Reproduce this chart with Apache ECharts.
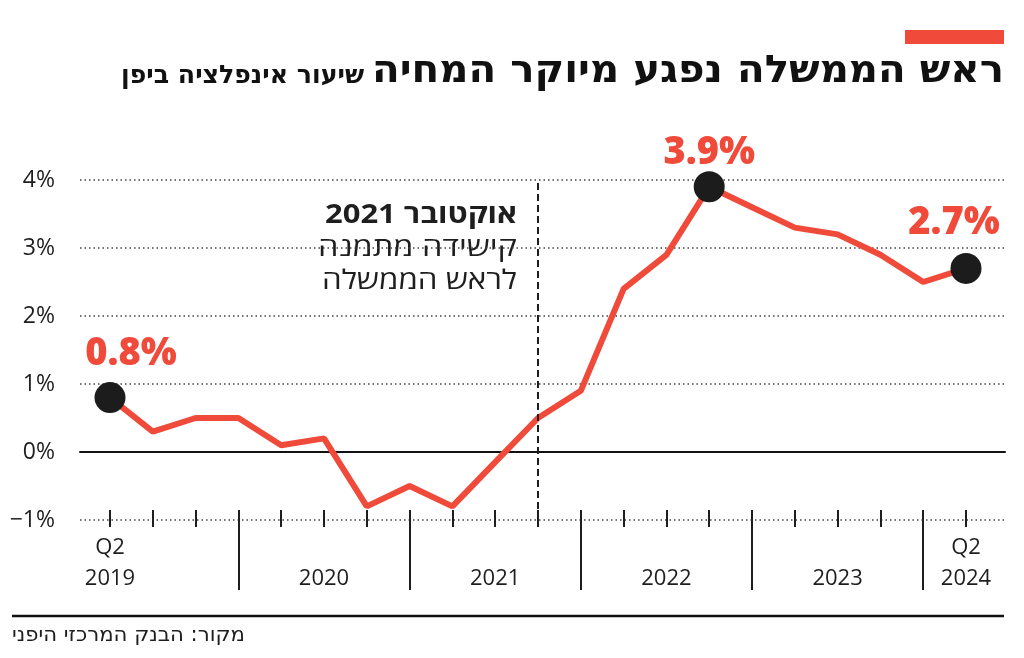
<!DOCTYPE html>
<html>
<head>
<meta charset="utf-8">
<script src="https://cdn.jsdelivr.net/npm/echarts@6/dist/echarts.min.js"></script>
<style>
html,body{margin:0;padding:0;background:#fff;}
#c{width:1024px;height:658px;}
</style>
</head>
<body>
<div id="c"></div>
<script>
// Quarterly inflation rate in Japan, Q2 2019 .. Q2 2024
const quarters = ['Q2 2019','Q3 2019','Q4 2019','Q1 2020','Q2 2020','Q3 2020','Q4 2020','Q1 2021','Q2 2021','Q3 2021','Q4 2021','Q1 2022','Q2 2022','Q3 2022','Q4 2022','Q1 2023','Q2 2023','Q3 2023','Q4 2023','Q1 2024','Q2 2024'];
const inflation = [0.8, 0.3, 0.5, 0.5, 0.1, 0.2, -0.8, -0.5, -0.8, -0.15, 0.5, 0.9, 2.4, 2.9, 3.9, 3.6, 3.3, 3.2, 2.9, 2.5, 2.7];
const highlightIdx = [0, 14, 20];
const yTicks = [-1, 0, 1, 2, 3, 4];
const yearSeparatorIdx = [3, 7, 11, 15, 19];
const axisLabelIdx = [0, 5, 9, 13, 17, 20];
const axisLabelText = ['Q2\n2019', '\n2020', '\n2021', '\n2022', '\n2023', 'Q2\n2024'];
const eventIdx = 10; // October 2021
const titleText = 'ראש הממשלה נפגע מיוקר המחיה';
const subtitleText = 'שיעור אינפלציה ביפן';
const noteLines = ['2021 אוקטובר', 'קישידה מתמנה', 'לראש הממשלה'];
const sourceText = 'מקור: הבנק המרכזי היפני';

const RED = '#ef4a3a';
const INK = '#1e1e1e';
const FONT = '"Open Sans", "DejaVu Sans", sans-serif';
const COND = '"DejaVu Sans Condensed", "DejaVu Sans", sans-serif';

const chart = echarts.init(document.getElementById('c'), null, {renderer: 'canvas'});

const yMin = yTicks[0], yMax = yTicks[yTicks.length - 1];
const lineData = inflation.map((v, i) => [i, v]);
const hiData = highlightIdx.map(i => [i, inflation[i]]);
const labelOffsets = {0: [21, -43], 14: [0, -34], 20: [-12, -45]};

function measure(text, font) {
  const cv = document.createElement('canvas').getContext('2d');
  cv.font = font;
  return cv.measureText(text).width;
}
const titleFont = 'bold 38px ' + COND;
const subFont = 'bold 25px ' + COND;
const srcFont = '21px ' + COND;
const noteFonts = ['bold 27px ' + FONT, '27px ' + FONT, '27px ' + FONT];
const noteWidths = [192, 199, 195];
const titleScale = 632 / measure(titleText, titleFont);
const subScale = 243 / measure(subtitleText, subFont);
const srcScale = 233 / measure(sourceText, srcFont);
const noteScales = noteLines.map((t, i) => noteWidths[i] / measure(t, noteFonts[i]));

const option = {
  animation: false,
  backgroundColor: '#fff',
  grid: [
    {left: 80, right: 19, top: 180, bottom: 138},
    {left: 110, right: 58, top: 180, bottom: 138}
  ],
  xAxis: [
    {gridIndex: 0, type: 'value', min: 0, max: 1, show: true,
     axisLine: {show: true, onZero: true, lineStyle: {color: '#111', width: 2}},
     axisTick: {show: false}, axisLabel: {show: false}, splitLine: {show: false}},
    {gridIndex: 1, type: 'value', position: 'bottom', min: 0, max: quarters.length - 1, interval: 1, offset: -10,
     axisLine: {show: false, onZero: false},
     axisTick: {show: true, length: 17, lineStyle: {color: INK, width: 2}},
     axisLabel: {show: true, margin: 22, color: INK, fontFamily: FONT, fontSize: 22, lineHeight: 31,
       formatter: function (v) { const k = axisLabelIdx.indexOf(Math.round(v)); return k >= 0 ? axisLabelText[k] : ''; }},
     splitLine: {show: false}},
    {gridIndex: 1, type: 'value', position: 'bottom', min: 0, max: quarters.length - 1, offset: -10,
     axisLine: {show: false, onZero: false},
     axisTick: {show: true, length: 80, customValues: yearSeparatorIdx, lineStyle: {color: INK, width: 2}},
     axisLabel: {show: false}, splitLine: {show: false}}
  ],
  yAxis: [
    {gridIndex: 0, type: 'value', min: yMin, max: yMax, interval: 1,
     axisLine: {show: false}, axisTick: {show: false},
     axisLabel: {margin: 25, color: INK, fontFamily: FONT, fontSize: 23,
       formatter: v => (v < 0 ? '\u2212' + Math.abs(v) : v) + '%'},
     splitLine: {show: true, lineStyle: {color: '#444', width: 1.5, type: [1.5, 3]}}},
    {gridIndex: 1, type: 'value', min: yMin, max: yMax, interval: 1, show: false, splitLine: {show: false}}
  ],
  series: [
    {type: 'line', xAxisIndex: 1, yAxisIndex: 1, data: lineData, symbol: 'none',
     lineStyle: {color: RED, width: 6}, z: 3,
     markLine: {silent: true, symbol: 'none', label: {show: false},
       lineStyle: {color: INK, width: 2, type: [7, 4]},
       data: [{xAxis: eventIdx}]}},
    {type: 'scatter', xAxisIndex: 1, yAxisIndex: 1, data: hiData, symbolSize: 31, z: 5,
     itemStyle: {color: '#1c1c1c', opacity: 1},
     emphasis: {disabled: true},
     label: {show: true, position: 'inside', color: RED, fontFamily: FONT, fontWeight: 800, fontSize: 38,
       formatter: p => p.value[1].toFixed(1) + '%'},
     labelLayout: function (p) {
       const i = hiData[p.dataIndex][0];
       const o = labelOffsets[i];
       return {dx: o[0], dy: o[1]};
     }}
  ],
  graphic: [
    {type: 'rect', shape: {x: 905, y: 30, width: 99, height: 14}, style: {fill: RED}},
    {type: 'text', x: 1004, y: 91, scaleX: titleScale, style: {text: titleText, font: titleFont, fill: '#111', align: 'right', verticalAlign: 'bottom'}},
    {type: 'text', x: 364, y: 89, scaleX: subScale, style: {text: subtitleText, font: subFont, fill: '#111', align: 'right', verticalAlign: 'bottom'}},
    {type: 'text', x: 517, y: 215, scaleX: noteScales[0], style: {text: noteLines[0], font: noteFonts[0], fill: INK, align: 'right', verticalAlign: 'middle'}},
    {type: 'text', x: 517, y: 248, scaleX: noteScales[1], style: {text: noteLines[1], font: noteFonts[1], fill: INK, align: 'right', verticalAlign: 'middle'}},
    {type: 'text', x: 517, y: 281, scaleX: noteScales[2], style: {text: noteLines[2], font: noteFonts[2], fill: INK, align: 'right', verticalAlign: 'middle'}},
    {type: 'line', shape: {x1: 12, y1: 616, x2: 1004, y2: 616}, style: {stroke: '#111', lineWidth: 2.5}},
    {type: 'text', x: 12, y: 636, scaleX: srcScale, style: {text: sourceText, font: srcFont, fill: INK, align: 'left', verticalAlign: 'middle'}}
  ]
};
chart.setOption(option);
</script>
</body>
</html>
